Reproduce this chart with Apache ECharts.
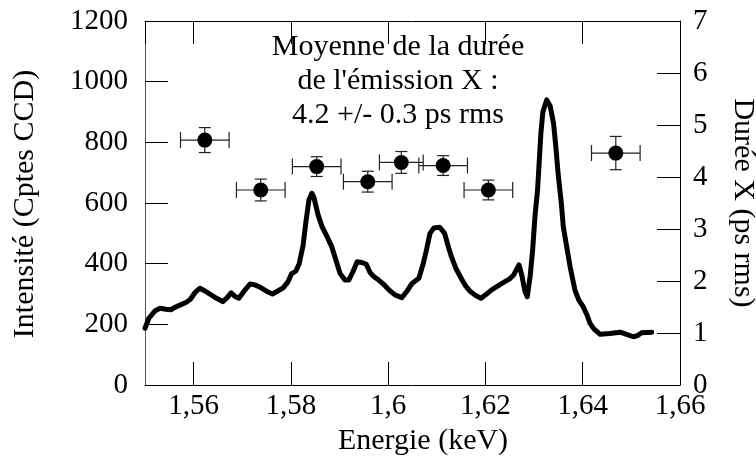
<!DOCTYPE html>
<html>
<head>
<meta charset="utf-8">
<script src="https://cdn.jsdelivr.net/npm/echarts@6/dist/echarts.min.js"></script>
<style>
html,body{margin:0;padding:0;background:#fff;}
#chart{width:756px;height:460px;}
</style>
</head>
<body>
<div id="chart"></div>
<script>
// Spectrum (left axis): energy (keV) and intensity (CCD counts)
const specEnergy = [1.5500,1.5508,1.5521,1.5531,1.5543,1.5553,1.5564,1.5574,1.5584,1.5593,1.5603,1.5613,1.5623,1.5636,1.5648,1.5660,1.5669,1.5677,1.5685,1.5693,1.5704,1.5716,1.5726,1.5737,1.5749,1.5762,1.5773,1.5784,1.5794,1.5801,1.5810,1.5817,1.5825,1.5831,1.5837,1.5843,1.5847,1.5856,1.5864,1.5874,1.5884,1.5893,1.5901,1.5911,1.5919,1.5928,1.5936,1.5946,1.5955,1.5963,1.5971,1.5981,1.5992,1.6004,1.6014,1.6028,1.6039,1.6049,1.6063,1.6072,1.6078,1.6086,1.6094,1.6106,1.6116,1.6123,1.6130,1.6139,1.6152,1.6160,1.6169,1.6180,1.6191,1.6201,1.6212,1.6224,1.6240,1.6250,1.6258,1.6269,1.6275,1.6281,1.6286,1.6292,1.6297,1.6302,1.6307,1.6314,1.6318,1.6326,1.6333,1.6340,1.6345,1.6350,1.6356,1.6360,1.6367,1.6374,1.6384,1.6392,1.6401,1.6409,1.6415,1.6423,1.6436,1.6456,1.6477,1.6490,1.6504,1.6513,1.6521,1.6542];
const specIntensity = [187,220,245,253,250,248,258,265,272,282,305,319,310,297,285,275,288,304,292,286,310,333,330,322,310,300,310,320,340,366,375,400,460,540,610,632,620,560,522,490,456,410,368,346,346,375,406,404,398,370,357,345,330,310,297,288,310,335,352,400,440,500,518,520,500,460,423,385,346,325,308,295,286,298,313,325,341,350,363,396,360,310,291,360,445,560,640,830,900,940,920,863,780,687,600,522,456,390,313,280,258,230,203,185,167,170,174,167,159,163,172,174];

// X-ray emission duration points (right axis)
const durEnergy = [1.5623,1.5738,1.5853,1.5958,1.6027,1.6113,1.6206,1.6468];
const durValue  = [4.71,3.75,4.20,3.91,4.28,4.22,3.75,4.46];
const durErrY   = [0.24,0.21,0.19,0.20,0.21,0.19,0.19,0.32];
const durErrX   = [0.005,0.005,0.005,0.005,0.0045,0.005,0.005,0.005];

// Text
const xTitle = 'Energie (keV)';
const yLeftTitle = 'Intensité (Cptes CCD)';
const yRightTitle = 'Durée X (ps rms)';
const noteLines = ['Moyenne de la durée', "de l'émission X :", '4.2 +/- 0.3 ps rms'];

const FONT = '"Liberation Serif", "Times New Roman", serif';

const chart = echarts.init(document.getElementById('chart'), null, {renderer: 'canvas'});

const specData = specEnergy.map((e, i) => [e, specIntensity[i]]);
const durData = durEnergy.map((e, i) => [e, durValue[i], durErrX[i], durErrY[i]]);

const fmtX = v => (Math.abs(v - 1.55) < 1e-9) ? '' : String(+v.toFixed(4)).replace('.', ',');
const fmtY = v => String(v);

const option = {
  animation: false,
  backgroundColor: '#fff',
  grid: {left: 145, right: 76, top: 21, bottom: 75, containLabel: false},
  xAxis: [{
    type: 'value', position: 'bottom', min: 1.55, max: 1.66, splitNumber: 5,
    axisLine: {show: true, onZero: false, lineStyle: {color: '#000', width: 1}},
    axisTick: {show: true, inside: true, length: 23, lineStyle: {color: '#000', width: 1}},
    axisLabel: {show: true, margin: 7, color: '#000', fontFamily: FONT, fontSize: 29, formatter: fmtX, showMinLabel: false},
    splitLine: {show: false}
  }, {
    type: 'value', position: 'top', min: 1.55, max: 1.66, splitNumber: 5,
    axisLine: {show: true, onZero: false, lineStyle: {color: '#000', width: 1}},
    axisTick: {show: true, inside: true, length: 23, lineStyle: {color: '#000', width: 1}},
    axisLabel: {show: false},
    splitLine: {show: false}
  }],
  yAxis: [{
    type: 'value', position: 'left', min: 0, max: 1200, interval: 200,
    axisLine: {show: true, onZero: false, lineStyle: {color: '#555', width: 1}},
    axisTick: {show: true, inside: true, length: 23, lineStyle: {color: '#000', width: 1}},
    axisLabel: {show: true, margin: 17, color: '#000', fontFamily: FONT, fontSize: 29, formatter: fmtY},
    splitLine: {show: false}
  }, {
    type: 'value', position: 'right', min: 0, max: 7, interval: 1,
    axisLine: {show: true, onZero: false, lineStyle: {color: '#000', width: 1}},
    axisTick: {show: true, inside: true, length: 23, lineStyle: {color: '#000', width: 1}},
    axisLabel: {show: true, margin: 13, color: '#000', fontFamily: FONT, fontSize: 29, formatter: fmtY},
    splitLine: {show: false}
  }],
  series: [{
    type: 'line', xAxisIndex: 0, yAxisIndex: 0, data: specData,
    showSymbol: false, symbol: 'none', smooth: false,
    lineStyle: {color: '#000', width: 5, join: 'round', cap: 'round'},
    z: 2
  }, {
    type: 'custom', xAxisIndex: 0, yAxisIndex: 1, data: durData,
    renderItem: function (params, api) {
      const x = api.value(0), y = api.value(1), ex = api.value(2), ey = api.value(3);
      const l = api.coord([x - ex, y]), r = api.coord([x + ex, y]);
      const t = api.coord([x, y + ey]), b = api.coord([x, y - ey]);
      const st = {stroke: '#222', lineWidth: 1.2};
      const cx = 8, cy = 6;
      return {type: 'group', children: [
        {type: 'line', shape: {x1: l[0], y1: l[1], x2: r[0], y2: r[1]}, style: st},
        {type: 'line', shape: {x1: l[0], y1: l[1] - cx, x2: l[0], y2: l[1] + cx}, style: st},
        {type: 'line', shape: {x1: r[0], y1: r[1] - cx, x2: r[0], y2: r[1] + cx}, style: st},
        {type: 'line', shape: {x1: t[0], y1: t[1], x2: b[0], y2: b[1]}, style: st},
        {type: 'line', shape: {x1: t[0] - cy, y1: t[1], x2: t[0] + cy, y2: t[1]}, style: st},
        {type: 'line', shape: {x1: b[0] - cy, y1: b[1], x2: b[0] + cy, y2: b[1]}, style: st}
      ]};
    },
    z: 3
  }, {
    type: 'scatter', xAxisIndex: 0, yAxisIndex: 1, data: durData.map(d => [d[0], d[1]]),
    symbol: 'circle', symbolSize: 15, itemStyle: {color: '#000', opacity: 1}, z: 4
  }],
  graphic: [{
    type: 'text', x: 398, y: 81, z: 10,
    style: {text: noteLines.join('\n'), fill: '#000', font: '30px ' + FONT, align: 'center', verticalAlign: 'middle', lineHeight: 34}
  }, {
    type: 'text', x: 423, y: 441, z: 10,
    style: {text: xTitle, fill: '#000', font: '30px ' + FONT, align: 'center', verticalAlign: 'middle'}
  }, {
    type: 'text', x: 25, y: 204, rotation: Math.PI / 2, z: 10,
    style: {text: yLeftTitle, fill: '#000', font: '30px ' + FONT, align: 'center', verticalAlign: 'middle'}
  }, {
    type: 'text', x: 743, y: 203, rotation: -Math.PI / 2, z: 10,
    style: {text: yRightTitle, fill: '#000', font: '30px ' + FONT, align: 'center', verticalAlign: 'middle'}
  }]
};

chart.setOption(option);
</script>
</body>
</html>
